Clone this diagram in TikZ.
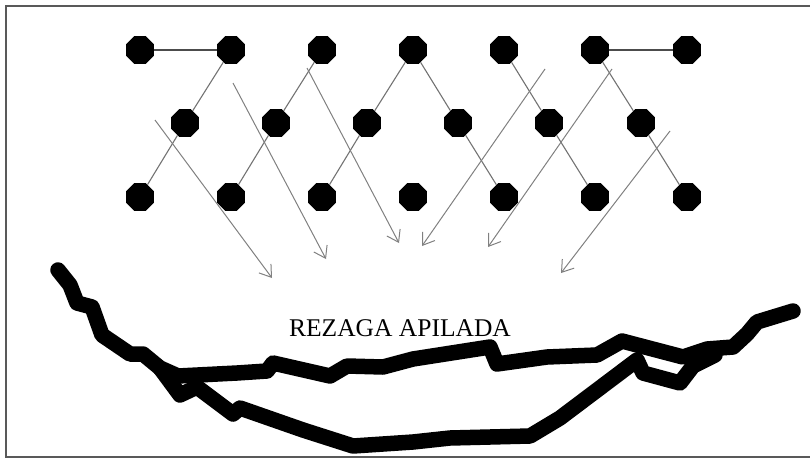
\documentclass[tikz,border=0pt]{standalone}
\usepackage{fontspec}
\setmainfont{Liberation Serif}
\usetikzlibrary{shapes.geometric,arrows.meta}
\begin{document}
\begin{tikzpicture}[x=1pt,y=-1pt,
  hole/.style={regular polygon,regular polygon sides=8,fill=black,draw=none,
    minimum size=30pt,inner sep=0pt},
  link/.style={draw=black!55,line width=1.1pt},
  toplink/.style={draw=black!70,line width=1.3pt},
  throw/.style={draw=black!50,line width=1pt,
    -{Straight Barb[length=11pt,width=15pt,line width=1pt]}},
  muck/.style={line width=15.5pt,line cap=round,line join=round,black}]
\useasboundingbox (0,0) rectangle (810,460);
% frame
\draw[black!65,line width=2pt] (810,6) -- (6,6) -- (6,457) -- (810,457);

% drill holes: top, middle and bottom rows
\foreach \n/\x in {1/140,2/231,3/322,4/413,5/504,6/595,7/687}{
  \node[hole] (t\n) at (\x,50) {};
  \node[hole] (b\n) at (\x,197) {};
}
\foreach \n/\x in {1/185,2/276,3/367,4/458,5/549,6/641}{
  \node[hole] (m\n) at (\x,123) {};
}

% links between holes
\draw[toplink] (t1) -- (t2);
\draw[toplink] (t6) -- (t7);
\draw[link] (t2) -- (m1) -- (b1);
\draw[link] (t3) -- (m2) -- (b2);
\draw[link] (t4) -- (m3) -- (b3);
\draw[link] (t4) -- (m4) -- (b5);
\draw[link] (t5) -- (m5) -- (b6);
\draw[link] (t6) -- (m6) -- (b7);

% throw directions
\coordinate (s1) at (155,120); \coordinate (e1) at (272,278);
\coordinate (s2) at (233,83);  \coordinate (e2) at (326,259);
\coordinate (s3) at (307,68);  \coordinate (e3) at (399,243);
\coordinate (s4) at (545,69);  \coordinate (e4) at (422,246);
\coordinate (s5) at (612,69);  \coordinate (e5) at (488,247);
\coordinate (s6) at (670,131); \coordinate (e6) at (561,273);
\foreach \i in {1,...,6}{ \draw[throw] (s\i) -- (e\i); }

% label
\node[font=\fontsize{25.5}{30}\selectfont] (lbl) at (400,328) {REZAGA APILADA};

% muck pile outline
\draw[muck] (58,270) -- (70,285) -- (77,303) -- (92,307) -- (102,335)
  -- (130,354) -- (143,354) -- (160,368) -- (178,376) -- (237,373)
  -- (267,371) -- (273,363) -- (330,376) -- (347,366) -- (383,367)
  -- (413,359) -- (490,347) -- (497,364) -- (547,357) -- (597,355)
  -- (622,341) -- (683,357) -- (707,349) -- (733,347) -- (747,334)
  -- (757,322) -- (793,311);
\draw[muck] (160,368) -- (180,395) -- (197,387) -- (233,414) -- (240,408)
  -- (303,430) -- (353,446) -- (413,442) -- (450,438) -- (530,436)
  -- (560,418) -- (637,360) -- (643,373) -- (680,383) -- (693,366)
  -- (715,355);
\end{tikzpicture}
\end{document}
